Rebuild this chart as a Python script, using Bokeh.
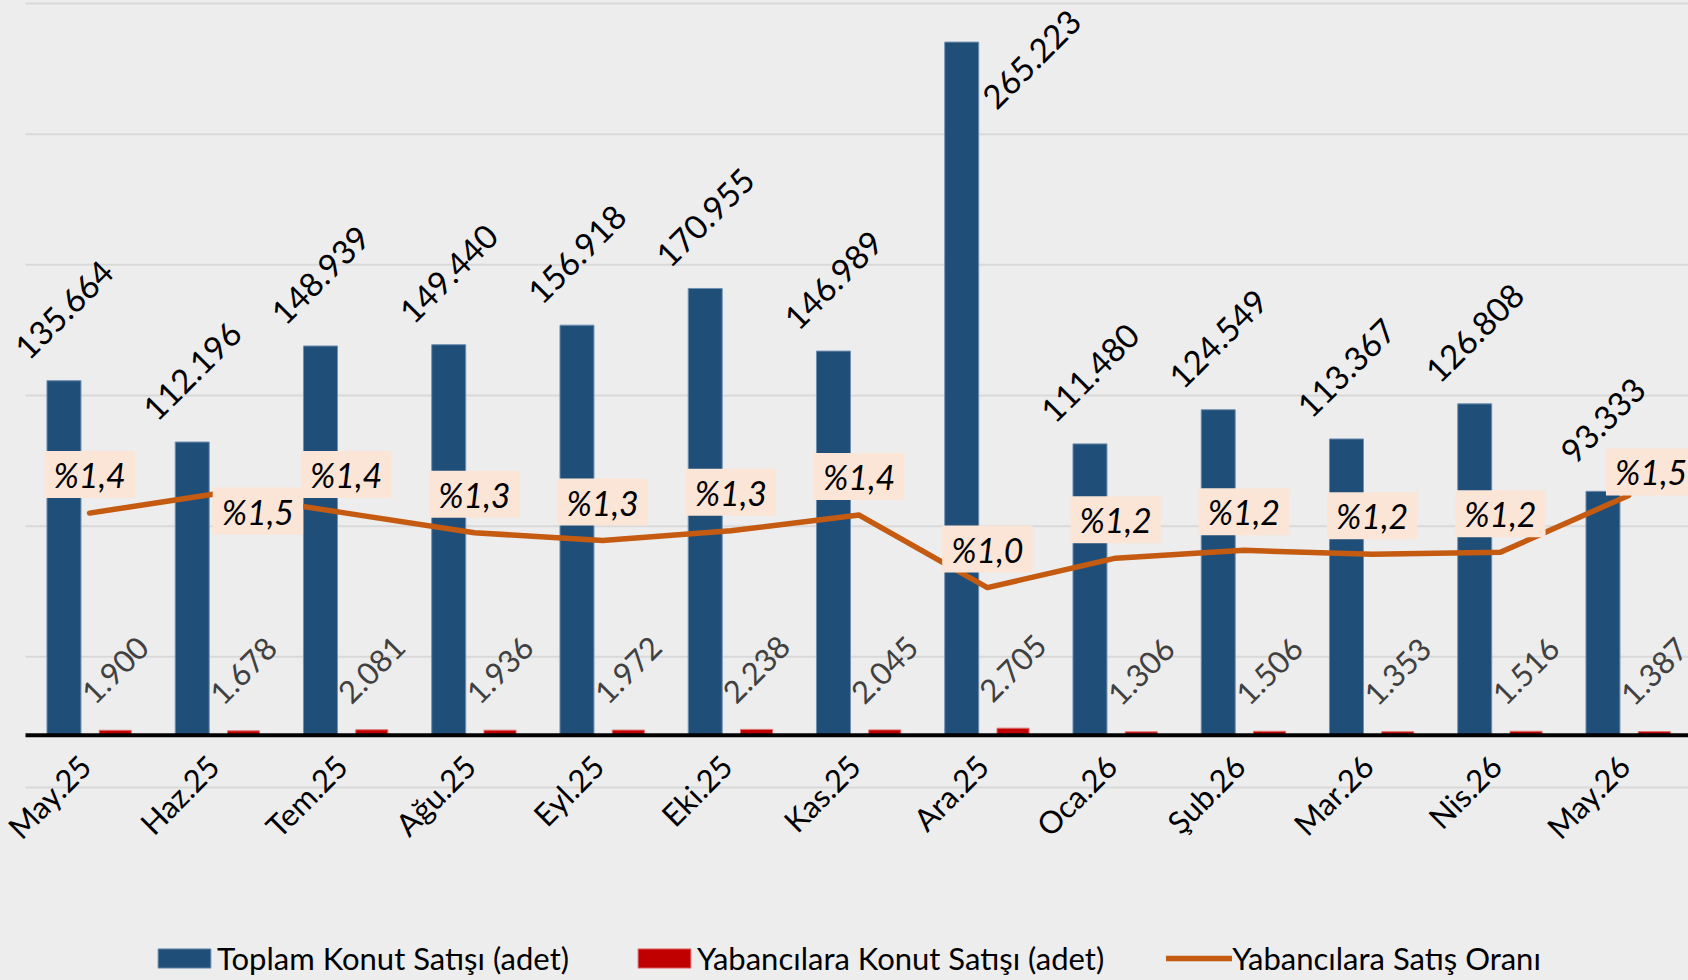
import numpy as np
from bokeh.plotting import figure
from bokeh.models import (ColumnDataSource, Range1d, Legend, LegendItem,
                          GlobalInlineStyleSheet)
from bokeh.core.properties import value
from bokeh.embed import file_html
from bokeh.resources import INLINE

# ---------------- data ----------------
months = ["May.25", "Haz.25", "Tem.25", "Ağu.25", "Eyl.25", "Eki.25", "Kas.25",
          "Ara.25", "Oca.26", "Şub.26", "Mar.26", "Nis.26", "May.26"]
total_sales = [135664, 112196, 148939, 149440, 156918, 170955, 146989,
               265223, 111480, 124549, 113367, 126808, 93333]
foreign_sales = [1900, 1678, 2081, 1936, 1972, 2238, 2045,
                 2705, 1306, 1506, 1353, 1516, 1387]
foreign_share = [1.40, 1.50, 1.40, 1.30, 1.26, 1.31, 1.39,
                 1.02, 1.17, 1.21, 1.19, 1.20, 1.49]
series_names = ["Toplam Konut Satışı (adet)",
                "Yabancılara Konut Satışı (adet)",
                "Yabancılara Satış Oranı"]
grid_values = [-20000, 30000, 80000, 130000, 180000, 230000, 280000]

# ---------------- layout constants ----------------
W, H = 1688, 980
PLOT_LEFT = 25                  # page x where the category band starts
PLOT_H = 787                    # height of the value area (page y 0 .. 787)
BELOW = H - PLOT_H              # room for category labels and legend
CAT_W = 128.25
Y_MIN = -20000
PPU = 130.67 / 50000.0          # px per unit on primary axis
Y_MAX = Y_MIN + PLOT_H / PPU
Y_LOW = Y_MIN - BELOW / PPU
SHARE_PPU = 196.0               # px per 1 % on secondary axis
X_START = -0.5 - PLOT_LEFT / CAT_W
X_END = -0.5 + (W - PLOT_LEFT) / CAT_W

BLUE = "#1f4e79"
RED = "#c00000"
ORANGE = "#c55a11"
BG = "#ededed"
FONT = "Lato"

n = len(months)
idx = np.arange(n)

def fmt_int(v):
    return f"{v:,}".replace(",", ".")

def fmt_pct(v):
    return "%" + f"{v:.1f}".replace(".", ",")

# blue label offsets: above bar, or beside it when there is no room above
b_xoff, b_yoff = [], []
for v in total_sales:
    room = (Y_MAX - v) * PPU
    if room < 100:
        b_xoff.append(70); b_yoff.append(17)
    else:
        b_xoff.append(0); b_yoff.append(-71)

# percentage label offsets (two labels were moved aside in the original)
p_xoff = [0.0] * n
p_yoff = [-38.5] * n
moved = {1: (40, 17.6), 12: (22.5, -23.5)}
for k, (dx, dy) in moved.items():
    p_xoff[k], p_yoff[k] = dx, dy

src = ColumnDataSource(dict(
    x=idx,
    xb=idx - 0.2,
    xr=idx + 0.2,
    zero=[0] * n,
    month=months,
    total=total_sales,
    foreign=foreign_sales,
    share=foreign_share,
    total_lbl=[fmt_int(v) for v in total_sales],
    foreign_lbl=[fmt_int(v) for v in foreign_sales],
    share_lbl=[fmt_pct(v) for v in foreign_share],
    b_xoff=b_xoff, b_yoff=b_yoff,
    p_xoff=p_xoff, p_yoff=p_yoff,
))

p = figure(width=W, height=H, output_backend="svg", toolbar_location=None,
           x_range=Range1d(X_START, X_END), y_range=Range1d(Y_LOW, Y_MAX),
           min_border_left=0, min_border_right=0, min_border_top=0,
           min_border_bottom=0)
p.extra_y_ranges = {"share": Range1d(-BELOW / SHARE_PPU, PLOT_H / SHARE_PPU)}

p.background_fill_color = BG
p.border_fill_color = BG
p.outline_line_color = None
p.xaxis.visible = False
p.yaxis.visible = False
p.xgrid.visible = False
p.ygrid.visible = False

p.stylesheets = [GlobalInlineStyleSheet(css="html, body { background: #ededed; }")]

# horizontal gridlines, starting at the left edge of the plot area
ng = len(grid_values)
p.segment(x0=[-0.5] * ng, x1=[X_END] * ng, y0=grid_values, y1=grid_values,
          line_color="#d9d9d9", line_width=2)

r_total = p.vbar(x="xb", top="total", bottom=0, width=0.265, source=src,
                 fill_color=BLUE, line_color="#6f8fb0", line_width=1)
r_foreign = p.vbar(x="xr", top="foreign", bottom=0, width=0.25, source=src,
                   fill_color=RED, line_color="#e07070", line_width=1)

# category axis line at zero
p.segment(x0=[-0.5], x1=[X_END], y0=[0], y1=[0], line_color="black", line_width=4)

r_share = p.line(x="x", y="share", source=src, y_range_name="share",
                 line_color=ORANGE, line_width=5.5, line_cap="round", line_join="round")

# value labels of total sales
p.text(x="xb", y="total", text="total_lbl", source=src, angle=np.pi / 4,
       x_offset="b_xoff", y_offset="b_yoff",
       text_align="center", text_baseline="middle",
       text_font=value(FONT), text_font_size="33px", text_color="black")

# value labels of foreign sales
p.text(x="xr", y="foreign", text="foreign_lbl", source=src, angle=np.pi / 4,
       y_offset=-60, text_align="center", text_baseline="middle",
       text_font=value(FONT), text_font_size="31px", text_color="#404040")

# share labels
p.text(x="x", y="share", text="share_lbl", source=src, y_range_name="share",
       x_offset="p_xoff", y_offset="p_yoff",
       text_align="center", text_baseline="middle",
       text_font=value(FONT), text_font_size="34px", text_font_style="italic",
       text_color="black", background_fill_color="#fbe5d6",
       padding=dict(left=9, right=9, top=3, bottom=3))

# category labels
p.text(x="x", y="zero", text="month", source=src, angle=np.pi / 4,
       x_offset=-18, y_offset=12, text_align="right", text_baseline="top",
       text_font=value(FONT), text_font_size="31px", text_color="black")

legend = Legend(items=[LegendItem(label=series_names[0], renderers=[r_total]),
                       LegendItem(label=series_names[1], renderers=[r_foreign]),
                       LegendItem(label=series_names[2], renderers=[r_share])],
                orientation="horizontal", location=(126 + PLOT_LEFT, 3),
                glyph_width=66, glyph_height=24, label_standoff=0, spacing=62,
                padding=0, margin=0, border_line_color=None,
                background_fill_alpha=0,
                label_text_font=FONT, label_text_font_size="31px",
                label_text_color="black")
p.add_layout(legend, "center")

open("out.html", "w").write(file_html(p, INLINE))
